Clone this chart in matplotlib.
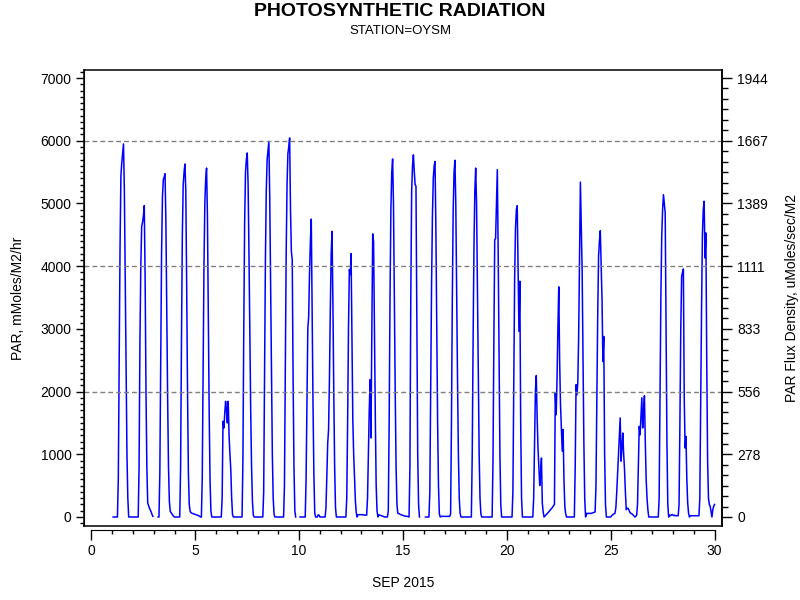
import numpy as np
import matplotlib.pyplot as plt
from matplotlib.ticker import MultipleLocator, AutoMinorLocator, FixedLocator, FixedFormatter

plt.rcParams['font.family'] = ['Liberation Sans', 'DejaVu Sans']

nan = np.nan
# hourly PAR (mMoles/M2/hr), hours 0..23 of each day, Sep 2015
d01 = [nan, 0, 0, 0, 0, 0, 0, 600, 2500, 4300, 5430, 5650, 5800, 5950, 5200, 3800, 2300, 1000, 300, 0, 0, 0, 0, 0]
d02 = [0, 0, 0, 0, 0, 0, 0, 800, 2800, 4000, 4630, 4700, 4800, 4965, 3800, 2000, 800, 223, 180, 140, 110, 80, 40, 10]
d03 = [nan, nan, nan, nan, nan, 0, 0, 700, 2500, 4200, 5100, 5380, 5420, 5475, 4700, 3300, 1900, 800, 250, 90, 70, 50, 30, 10]
d04 = [0, 0, 0, 0, 0, 0, 0, 800, 2800, 4500, 5300, 5500, 5630, 5200, 3700, 2000, 700, 200, 90, 70, 60, 55, 50, 45]
d05 = [40, 35, 30, 25, 20, 10, 0, 0, 600, 2400, 4000, 5000, 5400, 5565, 4800, 3300, 1700, 600, 100, 0, 0, 0, 0, 0]
d06 = [0, 0, 0, 0, 0, 0, 0, 300, 1525, 1420, 1650, 1845, 1700, 1500, 1845, 1300, 1000, 755, 300, 37, 0, 0, 0, 0]
d07 = [0, 0, 0, 0, 0, 0, 0, 900, 3000, 4700, 5500, 5700, 5805, 5300, 4200, 2900, 1700, 800, 250, 30, 0, 0, 0, 0]
d08 = [0, 0, 0, 0, 0, 0, 0, 400, 2200, 4100, 5200, 5700, 5850, 5990, 5100, 3700, 2200, 1000, 300, 40, 0, 0, 0, 0]
d09 = [0, 0, 0, 0, 0, 0, 0, 500, 2300, 4200, 5300, 5800, 5900, 6045, 4900, 4237, 4100, 2200, 800, 100, 0, nan, nan, nan]
d10 = [nan, 0, 0, 0, 0, 0, 0, 0, 600, 1800, 2998, 3200, 3900, 4400, 4750, 3300, 1800, 700, 64, 0, 0, 0, 35, 30]
d11 = [0, 0, 0, 0, 0, 0, 0, 150, 700, 1180, 1400, 2200, 3300, 4200, 4555, 3400, 2000, 800, 150, 0, 0, 0, 0, 0]
d12 = [0, 0, 0, 0, 0, 0, 0, 300, 1500, 3000, 3945, 3865, 4200, 2800, 1550, 1000, 600, 250, 64, 0, 37, 37, 37, 37]
d13 = [37, 37, 37, 30, 30, 30, 30, 300, 1000, 1700, 2190, 1260, 3000, 4515, 4395, 3000, 1600, 500, 100, 0, 35, 30, 25, 20]
d14 = [15, 10, 5, 0, 0, 0, 0, 100, 1500, 3500, 4900, 5500, 5710, 5000, 3500, 2000, 800, 200, 60, 55, 50, 40, 35, 30]
d15 = [25, 20, 15, 12, 10, 10, 5, 0, 800, 3500, 5200, 5600, 5775, 5515, 5300, 5275, 3000, 1000, 200, 0, nan, nan, nan, nan]
d16 = [nan, nan, 0, 0, 0, 0, 0, 400, 2000, 3700, 4800, 5400, 5600, 5670, 4600, 3000, 1500, 500, 50, 0, 10, 10, 10, 10]
d17 = [10, 10, 10, 10, 10, 10, 10, 50, 1500, 3500, 4900, 5500, 5690, 5000, 3600, 2200, 1000, 300, 60, 0, 0, 0, 0, 0]
d18 = [0, 0, 0, 0, 0, 0, 0, 0, 1000, 2800, 4300, 5200, 5565, 5000, 3700, 2300, 1000, 300, 50, 0, 0, 0, 0, 0]
d19 = [0, 0, 0, 0, 0, 0, 0, 0, 900, 2800, 4420, 4440, 5000, 5540, 4200, 2500, 1000, 200, 0, 0, 0, 0, 0, 0]
d20 = [0, 0, 0, 0, 0, 0, 0, 400, 2000, 3800, 4600, 4900, 4965, 4000, 2960, 3760, 1500, 300, 0, 0, 0, 0, 0, 0]
d21 = [0, 0, 0, 0, 0, 0, 0, 300, 1200, 2000, 2255, 1600, 1100, 800, 500, 700, 940, 220, 80, 0, 15, 30, 45, 60]
d22 = [75, 90, 110, 125, 140, 160, 180, 200, 1980, 1630, 2200, 3000, 3670, 2500, 1800, 1420, 1050, 1395, 600, 170, 50, 0, 0, 0]
d23 = [0, 0, 0, 0, 0, 0, 0, 800, 2110, 1950, 2140, 2900, 4200, 5340, 4600, 3945, 2500, 1200, 300, 0, 60, 50, 60, 55]
d24 = [60, 55, 60, 65, 70, 75, 80, 500, 1800, 3200, 4160, 4400, 4565, 4000, 3465, 2480, 2880, 1000, 200, 0, 0, 0, 0, 0]
d25 = [0, 20, 30, 45, 50, 60, 150, 400, 700, 1000, 1300, 1580, 890, 1100, 1340, 1000, 755, 400, 115, 140, 140, 115, 80, 60]
d26 = [55, 45, 30, 15, 0, 10, 30, 200, 800, 1445, 1310, 1600, 1900, 1420, 1700, 1935, 1200, 600, 300, 115, 0, 0, 0, 0]
d27 = [0, 0, 0, 0, 0, 0, 0, 0, 300, 2000, 3500, 4475, 4900, 5140, 5000, 4850, 3000, 1200, 200, 0, 30, 20, 30, 40]
d28 = [30, 20, 30, 20, 20, 20, 20, 200, 1500, 3000, 3835, 3900, 3955, 1900, 1100, 1285, 600, 220, 60, 0, 20, 20, 20, 20]
d29 = [20, 20, 20, 20, 20, 20, 20, 300, 1800, 3300, 4500, 4900, 5035, 4130, 4530, 2500, 900, 300, 200, 170, 80, 0, 115, 170]
d30 = [200]

days = [d01, d02, d03, d04, d05, d06, d07, d08, d09, d10, d11, d12, d13, d14, d15,
        d16, d17, d18, d19, d20, d21, d22, d23, d24, d25, d26, d27, d28, d29, d30]

t = []
par = []
for day, vals in enumerate(days, start=1):
    for h, v in enumerate(vals):
        t.append(day + h / 24)
        par.append(v)

right_labels = ['0', '278', '556', '833', '1111', '1389', '1667', '1944']

fig = plt.figure(figsize=(8, 6), dpi=100)
ax = fig.add_axes([0.105, 0.1233, 0.7975, 0.76])

ax.plot(t, par, color='#0000ff', lw=1.1)

ylo, yhi = -144, 7128
ax.set_ylim(ylo, yhi)
ax.set_xlim(-0.36, 30.36)

for g in [2000, 4000, 6000]:
    ax.axhline(g, color='#808080', lw=1, ls=(0, (3.5, 2.2)))

# axes styling
ax.spines['bottom'].set_position(('outward', 3))
ax.spines['bottom'].set_bounds(0, 30)
ax.plot([0, 1], [0, 0], transform=ax.transAxes, color='black', lw=1.1, clip_on=False)
for s in ['left', 'top', 'right']:
    ax.spines[s].set_linewidth(1.1)

ax.xaxis.set_major_locator(MultipleLocator(5))
ax.xaxis.set_minor_locator(MultipleLocator(1))
ax.yaxis.set_major_locator(MultipleLocator(1000))
ax.yaxis.set_minor_locator(AutoMinorLocator(10))
ax.tick_params(axis='x', which='major', length=7, width=1, labelsize=10, pad=3)
ax.tick_params(axis='x', which='minor', length=3, width=1)
ax.tick_params(axis='y', which='major', length=6, width=1, labelsize=10, pad=3)
ax.tick_params(axis='y', which='minor', length=3, width=1)

ax.set_xlabel('SEP 2015', fontsize=10, labelpad=13)
ax.set_ylabel('PAR, mMoles/M2/hr', fontsize=10, labelpad=11)

ax2 = ax.twinx()
ax2.set_ylim(ylo / 3.6, yhi / 3.6)
ax2.spines['bottom'].set_visible(False)
ax2.spines['top'].set_visible(False)
ax2.spines['right'].set_linewidth(1.1)
ax2.yaxis.set_major_locator(FixedLocator([k * 1000 / 3.6 for k in range(8)]))
ax2.yaxis.set_major_formatter(FixedFormatter(right_labels))
ax2.yaxis.set_minor_locator(AutoMinorLocator(6))
ax2.tick_params(axis='y', which='major', length=7, width=1, labelsize=10, pad=4)
ax2.tick_params(axis='y', which='minor', length=4, width=1)
ax2.set_ylabel('PAR Flux Density, uMoles/sec/M2', fontsize=10, labelpad=12)

fig.text(0.5, 1 - 12 / 600, 'PHOTOSYNTHETIC RADIATION', ha='center', va='center',
         fontsize=14, fontweight='bold')
fig.text(0.5, 1 - 31 / 600, 'STATION=OYSM', ha='center', va='center', fontsize=9.5)

fig.savefig('out.png', dpi=100)
